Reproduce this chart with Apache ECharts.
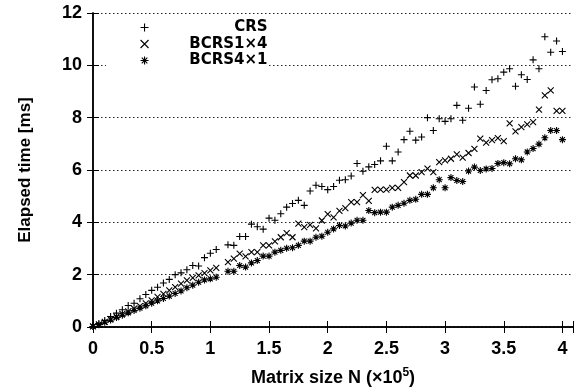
<!DOCTYPE html>
<html>
<head>
<meta charset="utf-8">
<script src="https://cdn.jsdelivr.net/npm/echarts@6/dist/echarts.min.js"></script>
<style>
html, body { margin: 0; padding: 0; background: #fff; }
#chart { width: 577px; height: 391px; }
</style>
</head>
<body>
<div id="chart"></div>
<script>
// matrix size N (x10^5)
const sizeN = [0, 0.05, 0.1, 0.15, 0.2, 0.25, 0.3, 0.35, 0.4, 0.45, 0.5, 0.55, 0.6, 0.65, 0.7, 0.75, 0.8, 0.85, 0.9, 0.95,
  1, 1.05, 1.1, 1.15, 1.2, 1.25, 1.3, 1.35, 1.4, 1.45, 1.5, 1.55, 1.6, 1.65, 1.7, 1.75, 1.8, 1.85, 1.9, 1.95,
  2, 2.05, 2.1, 2.15, 2.2, 2.25, 2.3, 2.35, 2.4, 2.45, 2.5, 2.55, 2.6, 2.65, 2.7, 2.75, 2.8, 2.85, 2.9, 2.95,
  3, 3.05, 3.1, 3.15, 3.2, 3.25, 3.3, 3.35, 3.4, 3.45, 3.5, 3.55, 3.6, 3.65, 3.7, 3.75, 3.8, 3.85, 3.9, 3.95, 4];

// elapsed time [ms]
const crs = [0.02, 0.13, 0.25, 0.40, 0.53, 0.66, 0.82, 0.91, 1.08, 1.24, 1.40, 1.52, 1.68, 1.82, 2.00, 2.07, 2.19, 2.35, 2.33, 2.65,
  2.82, 2.96, null, 3.14, 3.12, 3.46, 3.46, 3.93, 3.83, 3.74, 4.16, 4.08, 4.33, 4.58, 4.72, 4.84, 4.65, 5.20, 5.42, 5.37,
  5.25, 5.37, 5.61, 5.63, 5.77, 6.25, 5.95, 6.12, 6.21, 6.35, 6.91, 6.35, 6.69, 7.16, 7.48, 7.14, 7.26, 8.00, 7.51, 7.96,
  7.86, 7.96, 8.47, 7.90, 8.36, 9.17, 8.51, 9.04, 9.45, 9.49, 9.74, 9.87, 9.20, 9.64, 9.46, 10.21, 9.87, 11.09, 10.50, 10.93, 10.53];

const bcrs1x4 = [0.02, 0.10, 0.20, 0.30, 0.40, 0.50, 0.60, 0.70, 0.80, 0.90, 1.02, 1.15, 1.27, 1.40, 1.52, 1.66, 1.78, 1.88, 1.97, 2.06,
  2.16, 2.26, null, 2.48, 2.61, 2.80, 2.70, 2.86, 2.86, 3.12, 3.12, 3.27, 3.43, 3.59, 3.43, 3.95, 3.82, 3.90, 3.77, 4.07,
  4.31, 4.19, 4.44, 4.54, 4.77, 4.77, 5.04, 4.82, 5.24, 5.25, 5.25, 5.32, 5.32, 5.54, 5.79, 5.79, 5.92, 6.05, 5.92, 6.30,
  6.37, 6.43, 6.60, 6.47, 6.65, 6.81, 7.20, 7.05, 7.14, 7.22, 7.10, 7.78, 7.48, 7.64, 7.74, 7.83, 8.31, 8.85, 9.04, 8.26, 8.26];

const bcrs4x1 = [0.02, 0.09, 0.18, 0.27, 0.36, 0.45, 0.54, 0.63, 0.72, 0.81, 0.91, 1.00, 1.09, 1.18, 1.28, 1.38, 1.50, 1.60, 1.71, 1.80,
  1.84, 1.90, null, 2.13, 2.13, 2.35, 2.29, 2.45, 2.54, 2.71, 2.71, 2.86, 2.93, 3.01, 3.03, 3.12, 3.28, 3.28, 3.43, 3.47,
  3.62, 3.75, 3.88, 3.86, 3.97, 4.08, 4.08, 4.45, 4.37, 4.39, 4.39, 4.58, 4.65, 4.73, 4.84, 4.88, 5.07, 5.07, 5.32, 5.63,
  5.32, 5.71, 5.60, 5.56, 5.96, 6.11, 5.98, 6.04, 6.06, 6.25, 6.28, 6.24, 6.43, 6.39, 6.69, 6.82, 6.99, 7.23, 7.51, 7.51, 7.16];

const seriesNames = ['CRS', 'BCRS1×4', 'BCRS4×1'];

const plusPath = 'path://M0,5L10,5M5,0L5,10';
const crossPath = 'path://M0,0L10,10M10,0L0,10';
const starPath = 'path://M0,5L10,5M5,0L5,10M1.5,1.5L8.5,8.5M8.5,1.5L1.5,8.5';

const font = '"Liberation Sans", Arial, sans-serif';
const keyFont = '"DejaVu Sans", sans-serif';

function toPoints(vals) {
  const out = [];
  vals.forEach((v, i) => { if (v !== null) out.push([sizeN[i], v]); });
  return out;
}

function makeSeries(name, vals, symbol, size) {
  return {
    name: name,
    type: 'scatter',
    symbol: symbol,
    symbolSize: size,
    itemStyle: { color: '#000', borderColor: '#000', borderWidth: 1.1, opacity: 1 },
    data: toPoints(vals)
  };
}

const chart = echarts.init(document.getElementById('chart'));

const axisLineStyle = { color: '#000', width: 1.5 };
const tickStyle = { inside: true, length: 6, lineStyle: { color: '#000', width: 1 } };

chart.setOption({
  animation: false,
  backgroundColor: '#fff',
  grid: { left: 93, right: 4, top: 13, bottom: 64, outerBoundsMode: 'none' },
  legend: {
    orient: 'vertical',
    left: 106,
    top: 16,
    padding: [4, 0, 4, 34],
    backgroundColor: '#fff',
    itemWidth: 8,
    itemHeight: 8,
    itemGap: 1.5,
    itemStyle: { color: '#000', borderColor: '#000', borderWidth: 1.1 },
    data: [
      { name: seriesNames[0], icon: plusPath },
      { name: seriesNames[1], icon: crossPath },
      { name: seriesNames[2], icon: starPath }
    ],
    formatter: n => '{a|' + n + '}',
    textStyle: {
      rich: {
        a: { width: 114, align: 'right', fontSize: 15, fontWeight: 'bold', fontFamily: keyFont, color: '#000', lineHeight: 18 }
      }
    }
  },
  xAxis: [
    {
      type: 'value',
      min: 0,
      max: 4.09,
      interval: 0.5,
      name: '{a|Matrix size N (×10}{s|5}{a|)}',
      nameLocation: 'middle',
      nameGap: 40,
      nameTextStyle: {
        rich: {
          a: { fontSize: 18, fontWeight: 'bold', fontFamily: font, color: '#000', lineHeight: 22 },
          s: { fontSize: 12, fontWeight: 'bold', fontFamily: font, color: '#000', verticalAlign: 'top', lineHeight: 22, padding: [0, 0, 10, 0] }
        }
      },
      axisLine: { lineStyle: axisLineStyle },
      axisTick: tickStyle,
      axisLabel: {
        margin: 13,
        fontSize: 18,
        fontWeight: 'bold',
        fontFamily: font,
        color: '#000',
        formatter: v => (Math.abs(v * 2 - Math.round(v * 2)) < 1e-6 ? String(v) : '')
      },
      splitLine: { show: false }
    },
    {
      type: 'value',
      position: 'top',
      min: 0,
      max: 4.09,
      interval: 0.5,
      axisLine: { lineStyle: axisLineStyle },
      axisTick: tickStyle,
      axisLabel: { show: false },
      splitLine: { show: false }
    }
  ],
  yAxis: [
    {
      type: 'value',
      min: 0,
      max: 12,
      interval: 2,
      name: 'Elapsed time [ms]',
      nameLocation: 'middle',
      nameGap: 59,
      nameTextStyle: { fontSize: 17, fontWeight: 'bold', fontFamily: font, color: '#000' },
      axisLine: { show: true, lineStyle: axisLineStyle },
      axisTick: Object.assign({ show: true }, tickStyle),
      axisLabel: { margin: 11, fontSize: 18, fontWeight: 'bold', fontFamily: font, color: '#000' },
      splitLine: { show: true, lineStyle: { color: '#222', width: 1, type: [1.5, 2.5] } }
    },
    {
      type: 'value',
      position: 'right',
      min: 0,
      max: 12,
      interval: 2,
      axisLine: { show: true, lineStyle: axisLineStyle },
      axisTick: Object.assign({ show: true }, tickStyle),
      axisLabel: { show: false },
      splitLine: { show: false }
    }
  ],
  series: [
    makeSeries(seriesNames[0], crs, plusPath, 7),
    makeSeries(seriesNames[1], bcrs1x4, crossPath, 6),
    makeSeries(seriesNames[2], bcrs4x1, starPath, 7)
  ]
});
</script>
</body>
</html>
